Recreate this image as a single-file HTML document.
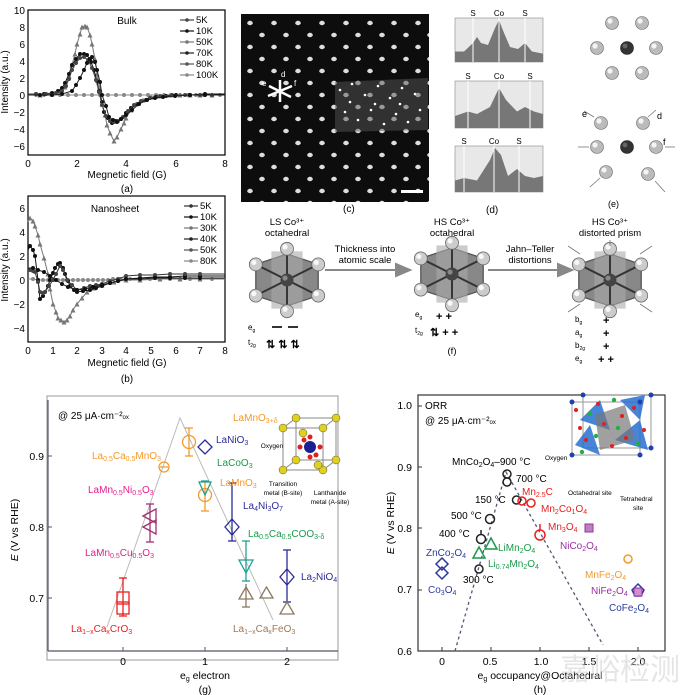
<!DOCTYPE html><html><head><meta charset="utf-8"><style>
body{margin:0;background:#fff}svg{display:block;font-family:"Liberation Sans",sans-serif}
</style></head><body>
<svg width="680" height="695" viewBox="0 0 680 695" xmlns="http://www.w3.org/2000/svg" xmlns:xlink="http://www.w3.org/1999/xlink">
<defs>
<marker id="m1" markerWidth="5" markerHeight="5" refX="2.5" refY="2.5" markerUnits="userSpaceOnUse"><circle cx="2.5" cy="2.5" r="2" fill="#111"/></marker>
<marker id="m2" markerWidth="5" markerHeight="5" refX="2.5" refY="2.5" markerUnits="userSpaceOnUse"><circle cx="2.5" cy="2.5" r="2" fill="#444"/></marker>
<marker id="m3" markerWidth="5" markerHeight="5" refX="2.5" refY="2.5" markerUnits="userSpaceOnUse"><polygon points="2.5,0 5,5 0,5" fill="#777"/></marker>
<marker id="m4" markerWidth="5" markerHeight="5" refX="2.5" refY="2.5" markerUnits="userSpaceOnUse"><circle cx="2.5" cy="2.5" r="2" fill="#888"/></marker>
<pattern id="dp" x="246" y="20" width="24" height="24" patternUnits="userSpaceOnUse">
<ellipse cx="4" cy="3" rx="2.8" ry="2.2" fill="#ddd"/><ellipse cx="16" cy="15" rx="2.8" ry="2.2" fill="#ddd"/></pattern>
<g id="ball"><circle r="6.5" fill="#bbb" stroke="#666" stroke-width="0.6"/><circle cx="-2" cy="-2" r="2.6" fill="#f4f4f4"/></g>
<g id="dball"><circle r="6.5" fill="#333" stroke="#222" stroke-width="0.6"/><circle cx="-2" cy="-2" r="2.4" fill="#666"/></g>
<g id="sball"><circle r="5" fill="#ccc" stroke="#666" stroke-width="0.6"/><circle cx="-1.5" cy="-1.5" r="2" fill="#f8f8f8"/></g>
<g id="oct">
<polygon points="-24,-12 0,-20 24,-12 24,12 0,20 -24,12" fill="#888" stroke="#555"/>
<polygon points="-12,-22 12,-22 12,22 -12,22" fill="#aaa" opacity="0.6"/>
<g stroke="#333" stroke-width="1.5"><line x1="-24" y1="-12" x2="24" y2="12"/><line x1="24" y1="-12" x2="-24" y2="12"/><line x1="0" y1="-24" x2="0" y2="24"/></g>
<circle r="5" fill="#444"/><circle cx="-1.5" cy="-1.5" r="2" fill="#888"/>
<use xlink:href="#sball" x="-24" y="-12"/><use xlink:href="#sball" x="0" y="-24"/><use xlink:href="#sball" x="24" y="-12"/><use xlink:href="#sball" x="-24" y="12"/><use xlink:href="#sball" x="0" y="24"/><use xlink:href="#sball" x="24" y="12"/>
</g>
</defs>

<!-- panel a -->
<rect x="28" y="10" width="197" height="145" fill="none" stroke="#000" stroke-width="1.2"/>
<g font-size="10" text-anchor="end">
<text x="25" y="14">10</text><text x="25" y="31">8</text><text x="25" y="48">6</text><text x="25" y="65">4</text><text x="25" y="82">2</text><text x="25" y="99">0</text><text x="25" y="116">−2</text><text x="25" y="133">−4</text><text x="25" y="150">−6</text></g>
<g font-size="10" text-anchor="middle"><text x="28" y="167">0</text><text x="77" y="167">2</text><text x="126" y="167">4</text><text x="176" y="167">6</text><text x="225" y="167">8</text>
<text x="127" y="178">Megnetic field (G)</text><text x="127" y="192">(a)</text>
<text x="127" y="24">Bulk</text></g>
<text transform="translate(8,82) rotate(-90)" font-size="10" text-anchor="middle">Intensity (a.u.)</text>
<g fill="none" stroke-width="1">
<polyline stroke="#888" marker-mid="url(#m4)" points="28,95 36,95 44,95 52,95 60,95 68,95 76,95 84,95 92,95 100,95 108,95 116,95 124,95 132,95 140,95 148,95 156,95 164,95 172,95 180,95 188,95 196,95 204,95 212,95 220,95 225,95"/>
<polyline stroke="#777" marker-mid="url(#m3)" points="28,95 40,95 52,94 60,91 65,87 69,76 72,65 75,54 77,44 80,34 82,27 85,26 87,27 90,35 92,44 95,59 97,74 100,89 102,104 105,115 107,125 110,133 114,141 117,137 121,129 124,123 126,118 131,110 136,104 143,100 151,97 160,96 170,95 180,95 190,95 200,95 212,95 225,95"/>
<polyline stroke="#111" marker-mid="url(#m1)" points="28,94 36,94 44,94 52,93 58,91 62,88 65,83 69,74 72,65 76,59 80,54 84,54 87,55 91,62 94,70 97,81 99,91 102,102 104,112 108,118 112,123 116,121 121,119 126,113 131,108 138,104 146,100 156,97 166,96 176,95 190,95 205,94 225,94"/>
<polyline stroke="#444" marker-mid="url(#m2)" points="28,94 36,94 46,94 56,93 62,91 66,86 69,79 72,70 76,63 80,58 84,57 88,60 92,68 96,80 99,92 102,105 106,116 110,121 114,122 118,121 123,117 128,111 134,105 141,101 150,98 160,96 172,95 185,95 200,95 212,95 225,95"/>
<polyline stroke="#222" marker-mid="url(#m1)" points="28,95 40,95 52,95 62,94 72,91 76,85 80,78 84,70 87,63 90,59 92,57 95,62 97,70 100,82 102,95 106,106 109,117 113,120 117,122 121,119 126,115 132,110 139,104 147,100 155,98 163,97 175,96 190,95 205,95 225,95"/>
</g>
<g stroke-width="1.2">
<line x1="180" y1="20" x2="194" y2="20" stroke="#444"/><circle cx="187" cy="20" r="1.8" fill="#444"/>
<line x1="180" y1="31" x2="194" y2="31" stroke="#111"/><circle cx="187" cy="31" r="1.8" fill="#111"/>
<line x1="180" y1="42" x2="194" y2="42" stroke="#777"/><circle cx="187" cy="42" r="1.8" fill="#777"/>
<line x1="180" y1="53" x2="194" y2="53" stroke="#222"/><circle cx="187" cy="53" r="1.8" fill="#222"/>
<line x1="180" y1="64" x2="194" y2="64" stroke="#555"/><circle cx="187" cy="64" r="1.8" fill="#555"/>
<line x1="180" y1="75" x2="194" y2="75" stroke="#888"/><circle cx="187" cy="75" r="1.8" fill="#888"/></g>
<g font-size="9.5"><text x="196" y="23">5K</text><text x="196" y="34">10K</text><text x="196" y="45">50K</text><text x="196" y="56">70K</text><text x="196" y="67">80K</text><text x="196" y="78">100K</text></g>

<!-- panel b -->
<rect x="28" y="196" width="197" height="146" fill="none" stroke="#000" stroke-width="1.2"/>
<g font-size="10" text-anchor="end"><text x="25" y="212">6</text><text x="25" y="236">4</text><text x="25" y="260">2</text><text x="25" y="284">0</text><text x="25" y="308">−2</text><text x="25" y="332">−4</text></g>
<g font-size="10" text-anchor="middle"><text x="28" y="354">0</text><text x="53" y="354">1</text><text x="77" y="354">2</text><text x="102" y="354">3</text><text x="126" y="354">4</text><text x="151" y="354">5</text><text x="176" y="354">6</text><text x="200" y="354">7</text><text x="225" y="354">8</text>
<text x="127" y="366">Megnetic field (G)</text><text x="127" y="382">(b)</text><text x="115" y="212">Nanosheet</text></g>
<text transform="translate(8,270) rotate(-90)" font-size="10" text-anchor="middle">Intensity (a.u.)</text>
<g fill="none" stroke-width="1">
<polyline stroke="#888" marker-mid="url(#m4)" points="28,279 33,279 38,280 43,280 48,280 53,280 58,280 63,280 68,280 73,280 78,280 83,280 88,280 93,280 98,280 103,280 108,280 113,279 120,279 130,279 140,279 150,279 160,279 170,279 180,279 190,279 200,279 212,279 225,279"/>
<polyline stroke="#777" marker-mid="url(#m3)" points="28,222 30,218 33,221 35,226 38,235 40,244 44,258 48,274 50,289 53,304 56,312 58,318 61,320 64,322 67,320 70,316 73,310 77,304 82,298 87,292 94,288 102,285 114,282 126,280 140,280 160,279 180,279 200,279 225,279"/>
<polyline stroke="#111" marker-mid="url(#m1)" points="28,250 30,246 33,250 35,256 38,280 40,299 43,296 45,292 48,286 50,280 53,273 55,268 58,264 60,263 63,268 65,274 68,281 70,286 74,290 77,292 83,291 90,290 96,288 102,286 110,283 118,281 126,279 140,278 155,277 170,277 185,276 200,276 225,276"/>
<polyline stroke="#333" marker-mid="url(#m2)" points="28,271 30,270 33,271 35,272 38,282 40,292 43,293 45,292 49,286 53,280 56,274 60,266 63,270 67,280 72,285 77,290 84,288 90,286 96,285 102,284 110,281 118,279 126,276 140,275 155,275 170,274 185,274 200,274 225,274"/>
<polyline stroke="#222" marker-mid="url(#m1)" points="28,268 33,268 38,270 44,272 50,276 56,280 62,284 68,287 77,290 85,289 93,287 102,285 110,283 118,281 126,279 140,279 155,278 170,278 185,278 200,278 225,278"/>
</g>
<g stroke-width="1.2">
<line x1="184" y1="206" x2="198" y2="206" stroke="#333"/><circle cx="191" cy="206" r="1.8" fill="#333"/>
<line x1="184" y1="217" x2="198" y2="217" stroke="#111"/><circle cx="191" cy="217" r="1.8" fill="#111"/>
<line x1="184" y1="228" x2="198" y2="228" stroke="#777"/><circle cx="191" cy="228" r="1.8" fill="#777"/>
<line x1="184" y1="239" x2="198" y2="239" stroke="#222"/><circle cx="191" cy="239" r="1.8" fill="#222"/>
<line x1="184" y1="250" x2="198" y2="250" stroke="#555"/><circle cx="191" cy="250" r="1.8" fill="#555"/>
<line x1="184" y1="261" x2="198" y2="261" stroke="#888"/><circle cx="191" cy="261" r="1.8" fill="#888"/></g>
<g font-size="9.5"><text x="200" y="209">5K</text><text x="200" y="220">10K</text><text x="200" y="231">30K</text><text x="200" y="242">40K</text><text x="200" y="253">50K</text><text x="200" y="264">80K</text></g>

<!-- c -->
<rect x="241" y="14" width="188" height="188" fill="#0d0d0d"/>
<rect x="241" y="14" width="188" height="188" fill="url(#dp)"/>
<polygon points="335,82 428,78 428,130 335,132" fill="#555" opacity="0.5"/>
<g fill="#fff"><circle cx="340" cy="90" r="1.3"/><circle cx="352" cy="84" r="1.3"/><circle cx="365" cy="95" r="1.3"/><circle cx="378" cy="86" r="1.3"/><circle cx="390" cy="98" r="1.3"/><circle cx="402" cy="88" r="1.3"/><circle cx="415" cy="94" r="1.3"/><circle cx="345" cy="112" r="1.3"/><circle cx="358" cy="120" r="1.3"/><circle cx="371" cy="110" r="1.3"/><circle cx="384" cy="124" r="1.3"/><circle cx="396" cy="114" r="1.3"/><circle cx="408" cy="122" r="1.3"/><circle cx="420" cy="110" r="1.3"/><circle cx="350" cy="102" r="1.3"/><circle cx="375" cy="104" r="1.3"/><circle cx="400" cy="104" r="1.3"/></g>
<g stroke="#fff" stroke-width="2.5"><line x1="268" y1="96" x2="292" y2="86"/><line x1="269" y1="86" x2="291" y2="97"/><line x1="280" y1="80" x2="280" y2="102"/></g>
<g fill="#fff" font-size="8"><text x="262" y="86">e</text><text x="281" y="77">d</text><text x="294" y="86">f</text></g>
<rect x="401" y="190" width="22" height="3" fill="#fff"/>
<text x="343" y="212" font-size="10">(c)</text>

<!-- d -->
<g stroke="#888" stroke-width="0.6" fill="#e8e8e8">
<rect x="455" y="18" width="88" height="44"/><rect x="455" y="81" width="88" height="47"/><rect x="455" y="146" width="88" height="46"/></g>
<g fill="#777">
<polygon points="455,62 455,51.5 464,51.5 473,43 477,37 481,43 488,45 495,28 499,20 503,30.5 510,47 518,49 525,43 532,51.5 543,53.6 543,62"/>
<polygon points="455,128 455,116 468,111.5 477,114 490,107 499,88 506,100 517,111.5 525,107 534,111.5 543,114 543,128"/>
<polygon points="455,192 455,180.5 464,178 477,180.5 490,160 495,148 501,155 508,176 517,169 525,176 534,178 543,176 543,192"/></g>
<g stroke="#fff" stroke-width="1">
<line x1="473" y1="18" x2="473" y2="62"/><line x1="499" y1="18" x2="499" y2="62"/><line x1="525" y1="18" x2="525" y2="62"/>
<line x1="468" y1="81" x2="468" y2="128"/><line x1="499" y1="81" x2="499" y2="128"/><line x1="530" y1="81" x2="530" y2="128"/>
<line x1="464" y1="146" x2="464" y2="192"/><line x1="494" y1="146" x2="494" y2="192"/><line x1="519" y1="146" x2="519" y2="192"/></g>
<g font-size="8" text-anchor="middle"><text x="473" y="16">S</text><text x="499" y="16">Co</text><text x="525" y="16">S</text>
<text x="468" y="79">S</text><text x="499" y="79">Co</text><text x="530" y="79">S</text>
<text x="464" y="144">S</text><text x="494" y="144">Co</text><text x="519" y="144">S</text></g>
<text x="486" y="213" font-size="10">(d)</text>

<!-- e -->
<use xlink:href="#ball" x="612" y="23"/><use xlink:href="#ball" x="642" y="23"/><use xlink:href="#ball" x="597" y="48"/><use xlink:href="#dball" x="627" y="48"/><use xlink:href="#ball" x="656" y="48"/><use xlink:href="#ball" x="612" y="73"/><use xlink:href="#ball" x="642" y="73"/>
<use xlink:href="#ball" x="601" y="123"/><use xlink:href="#ball" x="643" y="123"/><use xlink:href="#ball" x="597" y="147"/><use xlink:href="#dball" x="627" y="147"/><use xlink:href="#ball" x="656" y="147"/><use xlink:href="#ball" x="606" y="172"/><use xlink:href="#ball" x="648" y="174"/>
<g stroke="#777" stroke-width="0.8"><line x1="584" y1="111" x2="594" y2="117"/><line x1="656" y1="110" x2="648" y2="117"/><line x1="578" y1="147" x2="589" y2="147"/><line x1="675" y1="147" x2="665" y2="147"/><line x1="590" y1="187" x2="600" y2="178"/><line x1="665" y1="192" x2="655" y2="181"/></g>
<g font-size="9"><text x="582" y="117">e</text><text x="657" y="119">d</text><text x="663" y="145">f</text><text x="608" y="207">(e)</text></g>

<!-- f -->
<g font-size="9.5" text-anchor="middle">
<text x="287" y="225">LS Co³⁺</text><text x="287" y="236">octahedral</text>
<text x="452" y="225">HS Co³⁺</text><text x="452" y="236">octahedral</text>
<text x="610" y="225">HS Co³⁺</text><text x="610" y="236">distorted prism</text>
<text x="365" y="252">Thickness into</text><text x="365" y="263">atomic scale</text>
<text x="530" y="252">Jahn–Teller</text><text x="530" y="263">distortions</text>
<text x="452" y="354">(f)</text></g>
<g stroke="#888" stroke-width="2" fill="#888"><line x1="325" y1="270" x2="398" y2="270"/><polygon points="396,264 410,270 396,276"/><line x1="488" y1="270" x2="560" y2="270"/><polygon points="558,264 572,270 558,276"/></g>
<use xlink:href="#oct" transform="translate(287,280) scale(1.3)"/><use xlink:href="#oct" transform="translate(452,274) scale(1.3)"/><use xlink:href="#oct" transform="translate(610,280) scale(1.3)"/>
<g stroke="#777" stroke-width="0.8"><line x1="568" y1="246" x2="580" y2="254"/><line x1="652" y1="246" x2="640" y2="254"/><line x1="568" y1="312" x2="580" y2="304"/><line x1="652" y1="312" x2="640" y2="304"/><line x1="610" y1="240" x2="610" y2="246"/></g>
<g font-size="8"><text x="248" y="330">e<tspan font-size="5" dy="2">g</tspan></text><text x="248" y="345">t<tspan font-size="5" dy="2">2g</tspan></text><text x="415" y="317">e<tspan font-size="5" dy="2">g</tspan></text><text x="415" y="333">t<tspan font-size="5" dy="2">2g</tspan></text>
<text x="575" y="322">b<tspan font-size="5" dy="2">g</tspan></text><text x="575" y="335">a<tspan font-size="5" dy="2">g</tspan></text><text x="575" y="348">b<tspan font-size="5" dy="2">2g</tspan></text><text x="575" y="361">e<tspan font-size="5" dy="2">g</tspan></text></g>
<g stroke="#000" stroke-width="1.6"><line x1="272" y1="327" x2="282" y2="327"/><line x1="288" y1="327" x2="298" y2="327"/></g>
<g font-size="11" font-weight="bold"><text x="266" y="348">⇅ ⇅ ⇅</text><text x="436" y="320">+ +</text><text x="430" y="336">⇅ + +</text><text x="603" y="324">+</text><text x="603" y="337">+</text><text x="603" y="350">+</text><text x="598" y="363">+ +</text></g>

<!-- g -->
<rect x="47" y="396" width="291" height="264" fill="none" stroke="#999"/>
<line x1="48" y1="400" x2="48" y2="651" stroke="#556" stroke-width="1.2"/><line x1="48" y1="651" x2="338" y2="651" stroke="#556" stroke-width="1.2"/>
<g stroke="#556"><line x1="48" y1="456" x2="52" y2="456"/><line x1="48" y1="527" x2="52" y2="527"/><line x1="48" y1="598" x2="52" y2="598"/><line x1="123" y1="651" x2="123" y2="647"/><line x1="205" y1="651" x2="205" y2="647"/><line x1="287" y1="651" x2="287" y2="647"/></g>
<g font-size="10.5" text-anchor="end"><text x="44" y="460">0.9</text><text x="44" y="531">0.8</text><text x="44" y="602">0.7</text></g>
<g font-size="10.5" text-anchor="middle"><text x="123" y="665">0</text><text x="205" y="665">1</text><text x="287" y="665">2</text><text x="205" y="679">e<tspan font-size="7" dy="2">g</tspan><tspan dy="-2"> electron</tspan></text><text x="205" y="693">(g)</text></g>
<text transform="translate(18,530) rotate(-90)" font-size="10.5" text-anchor="middle"><tspan font-style="italic">E</tspan> (V vs RHE)</text>
<text x="58" y="419" font-size="10">@ 25 μA·cm⁻²<tspan font-size="6">ox</tspan></text>
<polyline points="107,627 180,418 273,620" fill="none" stroke="#bbb" stroke-width="1"/>
<g fill="none" stroke-width="1.3">
<g stroke="#e82020"><line x1="123" y1="578" x2="123" y2="616"/><line x1="119" y1="578" x2="127" y2="578"/><line x1="119" y1="616" x2="127" y2="616"/><rect x="117" y="592" width="12" height="12"/><rect x="117" y="602" width="12" height="12"/></g>
<g stroke="#a03070"><line x1="150" y1="504" x2="150" y2="542"/><line x1="146" y1="504" x2="154" y2="504"/><line x1="146" y1="542" x2="154" y2="542"/><polygon points="143,516 156,509 156,523"/><polygon points="143,527 156,520 156,534"/></g>
<g stroke="#f39a2c"><circle cx="164" cy="467" r="5"/><line x1="160" y1="467" x2="168" y2="467"/>
<line x1="189" y1="428" x2="189" y2="456"/><line x1="185" y1="428" x2="193" y2="428"/><line x1="185" y1="456" x2="193" y2="456"/><circle cx="189" cy="442" r="6.5"/>
<line x1="205" y1="482" x2="205" y2="511"/><line x1="201" y1="511" x2="209" y2="511"/><circle cx="205" cy="495" r="6.5"/></g>
<g stroke="#2b2b9a"><polygon points="205,440 212,447 205,454 198,447"/>
<line x1="232" y1="483" x2="232" y2="541"/><line x1="228" y1="483" x2="236" y2="483"/><line x1="228" y1="541" x2="236" y2="541"/><polygon points="232,519 239,527 232,535 225,527"/>
<line x1="287" y1="550" x2="287" y2="602"/><line x1="283" y1="550" x2="291" y2="550"/><line x1="283" y1="602" x2="291" y2="602"/><polygon points="287,569 294,577 287,585 280,577"/></g>
<g stroke="#20a090"><polygon points="205,495 211,482 199,482"/><line x1="201" y1="481" x2="209" y2="481"/>
<line x1="246" y1="541" x2="246" y2="581"/><line x1="242" y1="541" x2="250" y2="541"/><line x1="242" y1="581" x2="250" y2="581"/><polygon points="246,573 253,560 239,560"/></g>
<g stroke="#8a7a60"><line x1="246" y1="584" x2="246" y2="607"/><line x1="242" y1="607" x2="250" y2="607"/><polygon points="246,587 253,599 239,599"/><polygon points="266.5,587 273,598 260,598"/><polygon points="287,602 294,614 280,614"/></g>
</g>
<g font-size="10">
<text x="233" y="421" fill="#f39a2c">LaMnO<tspan font-size="7" dy="2">3+δ</tspan></text>
<text x="92" y="459" fill="#f39a2c">La<tspan font-size="7" dy="2">0.5</tspan><tspan dy="-2">Ca</tspan><tspan font-size="7" dy="2">0.5</tspan><tspan dy="-2">MnO</tspan><tspan font-size="7" dy="2">3</tspan></text>
<text x="216" y="443" fill="#2b2b9a">LaNiO<tspan font-size="7" dy="2">3</tspan></text>
<text x="217" y="466" fill="#1a9a4a">LaCoO<tspan font-size="7" dy="2">3</tspan></text>
<text x="220" y="486" fill="#f39a2c">LaMnO<tspan font-size="7" dy="2">3</tspan></text>
<text x="88" y="493" fill="#e0208a">LaMn<tspan font-size="7" dy="2">0.5</tspan><tspan dy="-2">Ni</tspan><tspan font-size="7" dy="2">0.5</tspan><tspan dy="-2">O</tspan><tspan font-size="7" dy="2">3</tspan></text>
<text x="243" y="509" fill="#2b2b9a">La<tspan font-size="7" dy="2">4</tspan><tspan dy="-2">Ni</tspan><tspan font-size="7" dy="2">3</tspan><tspan dy="-2">O</tspan><tspan font-size="7" dy="2">7</tspan></text>
<text x="248" y="537" fill="#1a9a4a">La<tspan font-size="7" dy="2">0.5</tspan><tspan dy="-2">Ca</tspan><tspan font-size="7" dy="2">0.5</tspan><tspan dy="-2">COO</tspan><tspan font-size="7" dy="2">3-δ</tspan></text>
<text x="85" y="556" fill="#e0208a">LaMn<tspan font-size="7" dy="2">0.5</tspan><tspan dy="-2">Cu</tspan><tspan font-size="7" dy="2">0.5</tspan><tspan dy="-2">O</tspan><tspan font-size="7" dy="2">3</tspan></text>
<text x="301" y="580" fill="#2b2b9a">La<tspan font-size="7" dy="2">2</tspan><tspan dy="-2">NiO</tspan><tspan font-size="7" dy="2">4</tspan></text>
<text x="71" y="632" fill="#e82020">La<tspan font-size="7" dy="2">1−x</tspan><tspan dy="-2">Ca</tspan><tspan font-size="7" dy="2">x</tspan><tspan dy="-2">CrO</tspan><tspan font-size="7" dy="2">3</tspan></text>
<text x="233" y="632" fill="#a07850">La<tspan font-size="7" dy="2">1−x</tspan><tspan dy="-2">Ca</tspan><tspan font-size="7" dy="2">x</tspan><tspan dy="-2">FeO</tspan><tspan font-size="7" dy="2">3</tspan></text>
</g>
<g>
<polygon points="283,428 323,428 323,470 283,470" fill="none" stroke="#888"/>
<polygon points="296,418 336,418 336,460 296,460" fill="none" stroke="#888"/>
<g stroke="#888"><line x1="283" y1="428" x2="296" y2="418"/><line x1="323" y1="428" x2="336" y2="418"/><line x1="283" y1="470" x2="296" y2="460"/><line x1="323" y1="470" x2="336" y2="460"/></g>
<g fill="#e0d020" stroke="#333" stroke-width="0.4"><circle cx="283" cy="428" r="4"/><circle cx="323" cy="428" r="4"/><circle cx="283" cy="470" r="4"/><circle cx="323" cy="470" r="4"/><circle cx="296" cy="418" r="4"/><circle cx="336" cy="418" r="4"/><circle cx="296" cy="460" r="4"/><circle cx="336" cy="460" r="4"/><circle cx="303" cy="433" r="4"/><circle cx="318" cy="465" r="4"/></g>
<circle cx="310" cy="447" r="6" fill="#1a2090"/>
<g fill="#e02020"><circle cx="300" cy="447" r="2.5"/><circle cx="320" cy="447" r="2.5"/><circle cx="310" cy="437" r="2.5"/><circle cx="310" cy="457" r="2.5"/><circle cx="304" cy="440" r="2.5"/><circle cx="316" cy="455" r="2.5"/></g>
</g>
<g font-size="6.5" text-anchor="middle"><text x="272" y="448">Oxygen</text><text x="283" y="486">Transition</text><text x="283" y="495">metal (B-site)</text><text x="330" y="495">Lanthanide</text><text x="330" y="504">metal (A-site)</text></g>

<!-- h -->
<rect x="418" y="395" width="247" height="256" fill="none" stroke="#333" stroke-width="1.2"/>
<g stroke="#333"><line x1="418" y1="406" x2="422" y2="406"/><line x1="418" y1="467" x2="422" y2="467"/><line x1="418" y1="528" x2="422" y2="528"/><line x1="418" y1="590" x2="422" y2="590"/><line x1="442" y1="651" x2="442" y2="647"/><line x1="491" y1="651" x2="491" y2="647"/><line x1="540" y1="651" x2="540" y2="647"/><line x1="589" y1="651" x2="589" y2="647"/><line x1="638" y1="651" x2="638" y2="647"/></g>
<g font-size="10.5" text-anchor="end"><text x="412" y="409">1.0</text><text x="412" y="471">0.9</text><text x="412" y="532">0.8</text><text x="412" y="593">0.7</text><text x="412" y="655">0.6</text></g>
<g font-size="10.5" text-anchor="middle"><text x="442" y="665">0</text><text x="490" y="665">0.5</text><text x="541" y="665">1.0</text><text x="589" y="665">1.5</text><text x="638" y="665">2.0</text>
<text x="540" y="679">e<tspan font-size="7" dy="2">g</tspan><tspan dy="-2"> occupancy@Octahedral</tspan></text><text x="540" y="693">(h)</text></g>
<text transform="translate(394,523) rotate(-90)" font-size="10.5" text-anchor="middle"><tspan font-style="italic">E</tspan> (V vs RHE)</text>
<text x="425" y="409" font-size="10">ORR</text><text x="425" y="424" font-size="10">@ 25 μA·cm⁻²<tspan font-size="6">ox</tspan></text>
<polyline points="455,651 506,472 603,645" fill="none" stroke="#557" stroke-width="1.3" stroke-dasharray="3,3"/>
<g fill="none" stroke-width="1.5">
<g stroke="#222"><circle cx="507" cy="474" r="4"/><circle cx="507" cy="482" r="4"/><circle cx="516.5" cy="500" r="4"/><circle cx="490" cy="519" r="4.5"/><circle cx="481" cy="539" r="4.5"/><line x1="481" y1="530" x2="481" y2="534"/><circle cx="479" cy="569" r="4"/></g>
<g stroke="#e82020"><circle cx="522" cy="501" r="4"/><circle cx="531" cy="503" r="4"/><circle cx="540" cy="535" r="5"/><line x1="540" y1="524" x2="540" y2="530"/></g>
<g stroke="#1a9a4a"><polygon points="491,538 497,549 485,549"/><polygon points="479,547 485,558 473,558"/></g>
<g stroke="#2b3aa0"><polygon points="442,558 448,564 442,570 436,564"/><polygon points="442,567 448,573 442,579 436,573"/><polygon points="638,584 644,590 641,596 635,596 632,590"/></g>
<circle cx="628" cy="559" r="4" stroke="#f39a2c"/>
</g>
<rect x="585" y="524" width="8" height="8" fill="#c080c0" stroke="#9a30a0"/>
<rect x="634" y="588" width="8" height="8" fill="#d090d0" stroke="#9a30a0"/>
<g font-size="10">
<text x="452" y="465">MnCo<tspan font-size="7" dy="2">2</tspan><tspan dy="-2">O</tspan><tspan font-size="7" dy="2">4</tspan><tspan dy="-2">–900 °C</tspan></text>
<text x="516" y="482">700 °C</text><text x="475" y="503">150 °C</text><text x="451" y="519">500 °C</text><text x="439" y="537">400 °C</text><text x="463" y="583">300 °C</text>
<text x="522" y="495" fill="#e82020">Mn<tspan font-size="7" dy="2">2.5</tspan><tspan dy="-2">C</tspan></text>
<text x="541" y="512" fill="#e82020">Mn<tspan font-size="7" dy="2">2</tspan><tspan dy="-2">Co</tspan><tspan font-size="7" dy="2">1</tspan><tspan dy="-2">O</tspan><tspan font-size="7" dy="2">4</tspan></text>
<text x="548" y="530" fill="#e82020">Mn<tspan font-size="7" dy="2">3</tspan><tspan dy="-2">O</tspan><tspan font-size="7" dy="2">4</tspan></text>
<text x="560" y="549" fill="#9a30a0">NiCo<tspan font-size="7" dy="2">2</tspan><tspan dy="-2">O</tspan><tspan font-size="7" dy="2">4</tspan></text>
<text x="498" y="551" fill="#1a9a4a">LiMn<tspan font-size="7" dy="2">2</tspan><tspan dy="-2">O</tspan><tspan font-size="7" dy="2">4</tspan></text>
<text x="488" y="567" fill="#1a9a4a">Li<tspan font-size="7" dy="2">0.74</tspan><tspan dy="-2">Mn</tspan><tspan font-size="7" dy="2">2</tspan><tspan dy="-2">O</tspan><tspan font-size="7" dy="2">4</tspan></text>
<text x="426" y="556" fill="#2b3aa0">ZnCo<tspan font-size="7" dy="2">2</tspan><tspan dy="-2">O</tspan><tspan font-size="7" dy="2">4</tspan></text>
<text x="428" y="593" fill="#2b3aa0">Co<tspan font-size="7" dy="2">3</tspan><tspan dy="-2">O</tspan><tspan font-size="7" dy="2">4</tspan></text>
<text x="585" y="578" fill="#f39a2c">MnFe<tspan font-size="7" dy="2">2</tspan><tspan dy="-2">O</tspan><tspan font-size="7" dy="2">4</tspan></text>
<text x="591" y="594" fill="#9a30a0">NiFe<tspan font-size="7" dy="2">2</tspan><tspan dy="-2">O</tspan><tspan font-size="7" dy="2">4</tspan></text>
<text x="609" y="611" fill="#2b3aa0">CoFe<tspan font-size="7" dy="2">2</tspan><tspan dy="-2">O</tspan><tspan font-size="7" dy="2">4</tspan></text>
</g>
<g>
<polygon points="572,402 640,402 640,455 572,455" fill="none" stroke="#999"/>
<polygon points="583,395 651,395 651,448 583,448" fill="none" stroke="#999"/>
<g fill="#2a70d0" opacity="0.85"><polygon points="580,420 600,400 610,430"/><polygon points="615,440 640,420 648,450"/><polygon points="575,445 590,425 600,455"/><polygon points="620,400 645,395 640,420"/></g>
<polygon points="595,415 625,405 635,440 600,450" fill="#777" opacity="0.7"/>
<g fill="#e02020"><circle cx="576" cy="410" r="2"/><circle cx="598" cy="404" r="2"/><circle cx="622" cy="416" r="2"/><circle cx="644" cy="430" r="2"/><circle cx="586" cy="440" r="2"/><circle cx="612" cy="446" r="2"/><circle cx="634" cy="408" r="2"/><circle cx="604" cy="424" r="2"/><circle cx="580" cy="428" r="2"/><circle cx="626" cy="438" r="2"/></g>
<g fill="#20b040"><circle cx="590" cy="414" r="2.2"/><circle cx="614" cy="400" r="2.2"/><circle cx="638" cy="444" r="2.2"/><circle cx="596" cy="436" r="2.2"/><circle cx="618" cy="428" r="2.2"/><circle cx="582" cy="452" r="2.2"/></g>
<g fill="#2040b0"><circle cx="572" cy="402" r="2.5"/><circle cx="640" cy="402" r="2.5"/><circle cx="572" cy="455" r="2.5"/><circle cx="640" cy="455" r="2.5"/><circle cx="651" cy="395" r="2.5"/><circle cx="651" cy="448" r="2.5"/><circle cx="583" cy="395" r="2.5"/></g>
</g>
<g font-size="6.5"><text x="545" y="460">Oxygen</text><text x="568" y="495">Octahedral site</text><text x="620" y="501">Tetrahedral</text><text x="633" y="510">site</text></g>
<text x="560" y="680" font-size="30" fill="#ccc" opacity="0.5" font-family="'Noto Sans CJK SC',sans-serif">嘉峪检测网</text>
</svg>
</body></html>
